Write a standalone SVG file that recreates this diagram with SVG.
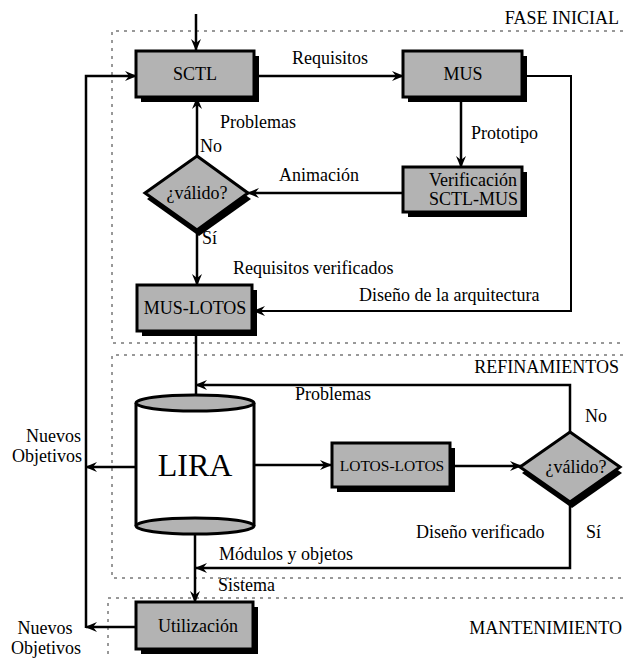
<svg xmlns="http://www.w3.org/2000/svg" width="623" height="658" viewBox="0 0 623 658">
<style>
text{font-family:"Liberation Serif","Times New Roman",serif;font-size:18px;fill:#000}
.c{text-anchor:middle}
.e{text-anchor:end}
.box{fill:#b3b3b3;stroke:#000;stroke-width:3}
.sh{fill:#000}
.frame{fill:none;stroke:#333;stroke-width:1;stroke-dasharray:3 5}
.ln{fill:none;stroke:#000;stroke-width:2.5}
</style>
<defs>
<marker id="ah" viewBox="0 0 12 10" refX="11" refY="5" markerWidth="12" markerHeight="10" markerUnits="userSpaceOnUse" orient="auto">
<path d="M0,0 L12,5 L0,10 L4,5 z" fill="#000"/>
</marker>
</defs>

<g id="frames">
<path class="frame" d="M623,31 H112 V343 H623"/>
<path class="frame" d="M623,355 H112 V578 H623"/>
<path class="frame" d="M623,598 H108 V658"/>
<text class="e" x="619" y="24">FASE INICIAL</text>
<text class="e" x="619" y="373">REFINAMIENTOS</text>
<text class="e" x="622" y="634">MANTENIMIENTO</text>
</g>

<g id="connectors">
<path class="ln" d="M196,14 V50" marker-end="url(#ah)"/>
<path class="ln" d="M256,76 H403" marker-end="url(#ah)"/>
<path class="ln" style="stroke-width:2" d="M525,76 H571 V311 H254" marker-end="url(#ah)"/>
<path class="ln" d="M461,99 V167" marker-end="url(#ah)"/>
<path class="ln" d="M403,193 H248" marker-end="url(#ah)"/>
<path class="ln" d="M197,157 V98" marker-end="url(#ah)"/>
<path class="ln" d="M197,231 V285" marker-end="url(#ah)"/>
<path class="ln" d="M196,333 V405" marker-end="url(#ah)"/>
<path class="ln" d="M570,432 V385 H196" marker-end="url(#ah)"/>
<path class="ln" d="M254,465 H331" marker-end="url(#ah)"/>
<path class="ln" d="M451,466 H521" marker-end="url(#ah)"/>
<path class="ln" d="M570,501 V568 H196" marker-end="url(#ah)"/>
<path class="ln" d="M195,535 V602" marker-end="url(#ah)"/>
<path class="ln" d="M136,467 H86" marker-end="url(#ah)"/>
<path class="ln" d="M136,627 H86" marker-end="url(#ah)"/>
<path class="ln" d="M86,628 V76 H136" marker-end="url(#ah)"/>
<text x="292" y="64">Requisitos</text>
<text x="220" y="128">Problemas</text>
<text x="200" y="152">No</text>
<text x="279" y="181">Animación</text>
<text x="471" y="139">Prototipo</text>
<text x="202" y="244">Sí</text>
<text x="233" y="274">Requisitos verificados</text>
<text x="359" y="301">Diseño de la arquitectura</text>
<text x="295" y="400">Problemas</text>
<text x="585" y="422">No</text>
<text x="416" y="538">Diseño verificado</text>
<text x="586" y="538">Sí</text>
<text x="219" y="560">Módulos y objetos</text>
<text x="218" y="591">Sistema</text>
<text class="e" x="81" y="442">Nuevos</text>
<text class="e" x="82" y="462">Objetivos</text>
<text class="c" x="45" y="634">Nuevos</text>
<text class="c" x="46" y="654">Objetivos</text>
</g>

<g id="sctl">
<rect class="sh" x="141" y="56" width="118" height="46"/>
<rect class="box" x="136" y="51" width="118" height="46"/>
<text class="c" x="195" y="80">SCTL</text>
</g>

<g id="mus">
<rect class="sh" x="408" y="56" width="119" height="46"/>
<rect class="box" x="403" y="51" width="119" height="46"/>
<text class="c" x="463" y="80">MUS</text>
</g>

<g id="verificacion">
<rect class="sh" x="408" y="172" width="119" height="45"/>
<rect class="box" x="403" y="167" width="119" height="45"/>
<text class="e" x="517" y="186">Verificación</text>
<text class="e" x="518" y="205">SCTL-MUS</text>
</g>

<g id="valido1">
<path class="sh" d="M199,162 L251,199 L199,236 L147,199 z"/>
<path class="box" d="M197,156 L248,193 L197,230 L145,193 z"/>
<text class="c" x="197" y="199">¿válido?</text>
</g>

<g id="muslotos">
<rect class="sh" x="142" y="290" width="115" height="46"/>
<rect class="box" x="137" y="285" width="115" height="46"/>
<text class="c" x="195" y="314">MUS-LOTOS</text>
</g>

<g id="lira">
<rect x="136" y="403" width="118" height="123" fill="#fff" stroke="none"/>
<path d="M136,403 V526 M254,403 V526" fill="none" stroke="#000" stroke-width="3"/>
<ellipse cx="195" cy="526" rx="59" ry="8" fill="#b3b3b3" stroke="#000" stroke-width="3"/>
<ellipse cx="195" cy="403" rx="59" ry="8" fill="#b3b3b3" stroke="#000" stroke-width="3"/>
<text class="c" x="195" y="476" style="font-size:32px">LIRA</text>
</g>

<g id="lotoslotos">
<rect class="sh" x="337" y="448" width="118" height="44"/>
<rect class="box" x="332" y="443" width="118" height="44"/>
<text class="c" x="392" y="471" style="font-size:15.5px">LOTOS-LOTOS</text>
</g>

<g id="valido2">
<path class="sh" d="M572,438 L622,473 L572,508 L522,473 z"/>
<path class="box" d="M570,432 L620,467 L570,502 L520,467 z"/>
<text class="c" x="576" y="473">¿válido?</text>
</g>

<g id="utilizacion">
<rect class="sh" x="141" y="607" width="117" height="47"/>
<rect class="box" x="136" y="602" width="117" height="47"/>
<text class="c" x="198" y="632">Utilización</text>
</g>
</svg>
